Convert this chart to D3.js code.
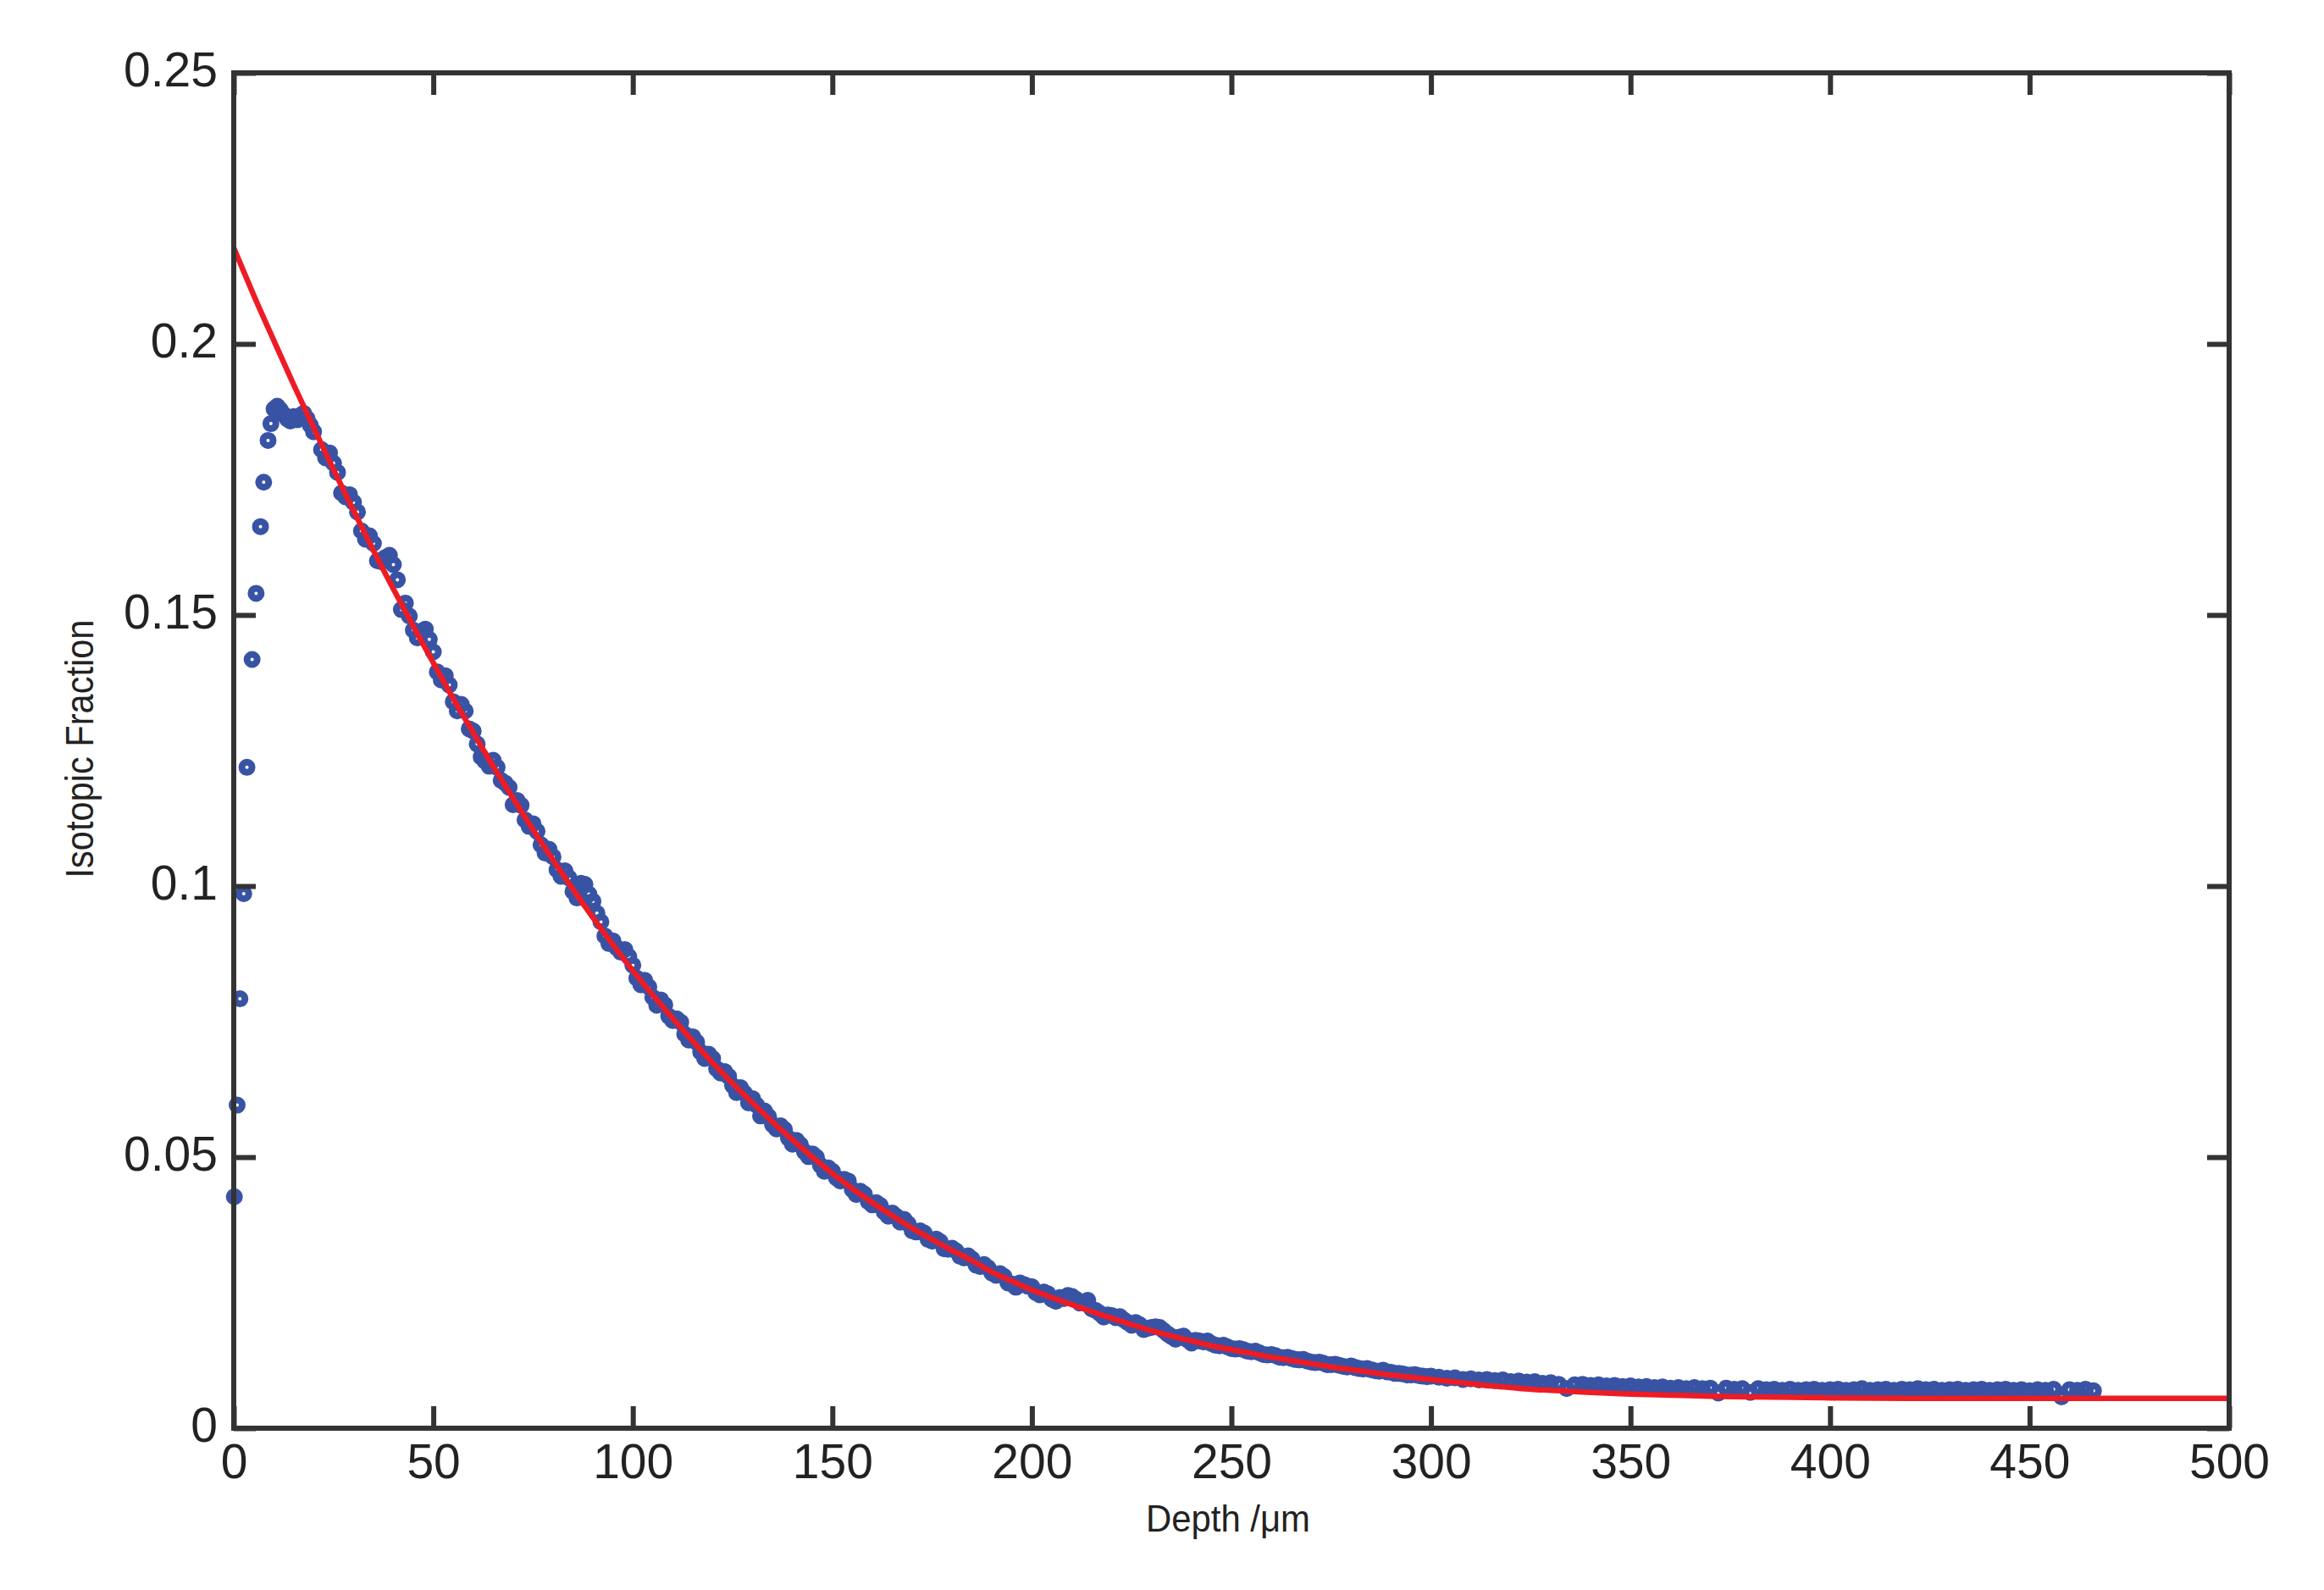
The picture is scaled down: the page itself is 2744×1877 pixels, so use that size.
<!DOCTYPE html>
<html>
<head>
<meta charset="utf-8">
<script src="https://cdn.jsdelivr.net/npm/d3@7"></script>
<style>
html,body{margin:0;padding:0;background:#fff;}
svg{display:block;}
</style>
</head>
<body>
<svg id="chart" width="2744" height="1877"></svg>
<script>
// ---------- data ----------
const xTicks = [0, 50, 100, 150, 200, 250, 300, 350, 400, 450, 500];
const yTicks = [0, 0.05, 0.1, 0.15, 0.2, 0.25];
const yTickLabels = ["0", "0.05", "0.1", "0.15", "0.2", "0.25"];
const xTitle = "Depth /\u03bcm";
const yTitle = "Isotopic Fraction";

// measured points: depth (µm)
const depth = [
0.15,0.85,1.55,2.5,3.3,4.6,5.6,6.7,7.5,8.6,9.3,10.1,10.9,11.7,12.5,13.4,14.2,15.0,15.9,16.7,17.5,18.4,19.2,20.0,
22,24,26,28,30,32,34,36,38,40,42,44,46,48,50,52,54,56,58,60,62,64,66,68,70,72,74,76,78,80,
82,84,86,88,90,92,94,96,98,100,102,104,106,108,110,112,114,116,118,120,122,124,126,128,130,
132,134,136,138,140,142,144,146,148,150,152,154,156,158,160,162,164,166,168,170,172,174,176,178,180,
182,184,186,188,190,192,194,196,198,200,202,204,206,208,210,212,214,216,218,220,222,224,226,228,230,
232,234,236,238,240,242,244,246,248,250,252,254,256,258,260,262,264,266,268,270,272,274,276,278,280,
282,284,286,288,290,292,294,296,298,300,302,304,306,308,310,312,314,316,318,320,322,324,326,328,330,
332,334,336,338,340,342,344,346,348,350,352,354,356,358,360,362,364,366,368,370,372,374,376,378,380,
382,384,386,388,390,392,394,396,398,400,402,404,406,408,410,412,414,416,418,420,422,424,426,428,430,
432,434,436,438,440,442,444,446,448,450,452,454,456,458,460,462,464,466
];
// measured points: isotopic fraction
const fraction = [
0.0427,0.0596,0.0792,0.0986,0.1219,0.1418,0.1540,0.1663,0.1745,0.1822,0.1853,0.1880,0.1885,0.1878,0.1870,0.1862,0.1858,0.1866,0.1860,0.1868,0.1872,0.1862,0.1850,0.1838,
0.1805,0.1799,0.1763,0.1718,0.1708,0.1655,0.1646,0.1600,0.1606,0.1593,0.1510,0.1498,0.1458,0.1474,0.1432,0.1380,0.1371,0.1323,0.1323,0.1286,0.1238,0.1221,0.1219,0.1190,0.1150,0.1149,0.1110,0.1101,0.1061,0.1054,
0.1018,0.1015,0.0978,0.1003,0.0972,0.0934,0.0894,0.0886,0.0883,0.0854,0.0818,0.0814,0.0780,0.0781,0.0752,0.0749,0.0716,0.0712,0.0682,0.0682,0.0655,0.0649,0.0619,0.0618,0.0608,
0.0576,0.0575,0.0552,0.0551,0.0524,0.0523,0.0501,0.0500,0.0474,0.0474,0.0456,0.0456,0.0431,0.0432,0.0412,0.0411,0.0391,0.0391,0.0385,0.0364,0.0364,0.0348,0.0349,0.0331,0.0332,
0.0317,0.0318,0.0301,0.0302,0.0286,0.0285,0.0268,0.0260,0.0265,0.0261,0.0246,0.0248,0.0234,0.0239,0.0243,0.0231,0.0236,0.0217,0.0205,0.0208,0.0206,0.0195,0.0195,0.0182,0.0186,
0.0186,0.0174,0.0164,0.0170,0.0157,0.0161,0.0161,0.0153,0.0153,0.0147,0.0147,0.0142,0.0142,0.0136,0.0136,0.0131,0.0131,0.0127,0.0127,0.0122,0.0122,0.0117,0.0118,0.0114,0.0115,
0.0110,0.0110,0.0106,0.0107,0.0103,0.0101,0.0098,0.0099,0.0096,0.0096,0.0094,0.0092,0.0093,0.0090,0.0091,0.0089,0.0090,0.0088,0.0089,0.0086,0.0087,0.0085,0.0086,0.0083,0.0084,
0.0081,0.0073,0.0080,0.0081,0.0079,0.0080,0.0078,0.0079,0.0077,0.0078,0.0076,0.0077,0.0075,0.0076,0.0074,0.0075,0.0073,0.0075,0.0073,0.0074,0.0065,0.0074,0.0072,0.0073,0.0066,
0.0073,0.0071,0.0072,0.0070,0.0072,0.0070,0.0071,0.0072,0.0070,0.0071,0.0072,0.0070,0.0071,0.0073,0.0070,0.0071,0.0072,0.0070,0.0072,0.0071,0.0073,0.0071,0.0072,0.0070,0.0071,
0.0072,0.0070,0.0071,0.0072,0.0070,0.0071,0.0072,0.0070,0.0071,0.0069,0.0071,0.0070,0.0072,0.0058,0.0071,0.0070,0.0072,0.0069
];
const depthB = [
23,25,27,29,31,33,35,37,39,41,43,45,47,49,51,53,55,57,59,61,63,65,67,69,71,73,75,77,79,81,
83,85,87,89,91,93,95,97,99,101,103,105,107,109,111,113,115,117,119,121,123,125,127,129,131,133,135,137,139,141,
143,145,147,149,151,153,155,157,159,161,163,165,167,169,171,173,175,177,179,181,183,185,187,189,191,193,195,197,199,201,
203,205,207,209,211,213,215,217,219,221,223,225,227,229,231,233,235,237,239,241,243,245,247,249,251,253,255,257,259,261,
263,265,267,269,271,273,275,277,279,281,283,285,287,289,291,293,295,297,299
];
const fractionB = [
0.1790,0.1780,0.1725,0.1722,0.1690,0.1640,0.1632,0.1598,0.1610,0.1565,0.1522,0.1472,0.1470,0.1455,0.1395,0.1388,0.1340,0.1335,0.1290,0.1262,0.1230,0.1232,0.1195,0.1182,0.1158,0.1122,0.1115,0.1076,0.1068,0.1030,
0.1028,0.0990,0.1005,0.0985,0.0950,0.0908,0.0899,0.0878,0.0870,0.0830,0.0826,0.0795,0.0790,0.0760,0.0755,0.0727,0.0722,0.0694,0.0690,0.0663,0.0658,0.0632,0.0628,0.0600,0.0596,0.0585,0.0560,0.0558,0.0535,0.0531,
0.0510,0.0506,0.0485,0.0480,0.0462,0.0459,0.0440,0.0437,0.0418,0.0416,0.0399,0.0397,0.0380,0.0377,0.0362,0.0360,0.0345,0.0344,0.0330,0.0327,0.0314,0.0312,0.0298,0.0296,0.0282,0.0280,0.0266,0.0268,0.0262,0.0250,
0.0251,0.0238,0.0241,0.0245,0.0238,0.0232,0.0220,0.0212,0.0209,0.0204,0.0200,0.0190,0.0191,0.0184,0.0187,0.0180,0.0169,0.0168,0.0163,0.0162,0.0159,0.0156,0.0152,0.0150,0.0146,0.0145,0.0141,0.0139,0.0135,0.0134,
0.0130,0.0129,0.0126,0.0124,0.0121,0.0120,0.0117,0.0116,0.0113,0.0112,0.0109,0.0108,0.0105,0.0104,0.0101,0.0100,0.0098,0.0097,0.0095
];

// fitted curve
const fitDepth = [0,5,10,15,20,25,30,35,40,45,50,55,60,65,70,75,80,85,90,95,100,105,110,115,120,125,130,135,140,145,150,155,160,165,170,175,180,185,190,195,200,205,210,215,220,225,230,235,240,245,250,255,260,265,270,275,280,285,290,295,300,305,310,315,320,325,330,335,340,350,360,370,380,390,400,420,450,500];
const fitFraction = [0.2177,0.2090,0.2007,0.1925,0.1846,0.1768,0.1693,0.1619,0.1548,0.1479,0.1412,0.1346,0.1283,0.1221,0.1162,0.1104,0.1048,0.0994,0.0942,0.0892,0.0844,0.0799,0.0756,0.0714,0.0674,0.0636,0.0600,0.0565,0.0532,0.0500,0.0470,0.0442,0.0416,0.0392,0.0369,0.0348,0.0328,0.0309,0.0288,0.0271,0.0255,0.0241,0.0228,0.0215,0.0203,0.0191,0.0180,0.0170,0.0161,0.0152,0.0145,0.0138,0.0131,0.0125,0.0119,0.0113,0.0108,0.0103,0.0098,0.0094,0.0090,0.0086,0.0082,0.0078,0.0075,0.0072,0.0070,0.0068,0.0066,0.0063,0.0061,0.0059,0.0058,0.0057,0.0056,0.0055,0.0055,0.0055];

// ---------- layout ----------
const L = 276, R = 2632, T = 86, B = 1686;
const frameColor = "#333333";
const svg = d3.select("#chart");

const x = d3.scaleLinear().domain([0, 500]).range([L, R]);
const y = d3.scaleLinear().domain([0, 0.25]).range([B, T]);

const font = "'Liberation Sans', Arial, Helvetica, sans-serif";

// scatter points
const pts = depth.map((d, i) => ({d: d, f: fraction[i]}))
  .concat(depthB.map((d, i) => ({d: d, f: fractionB[i]})));
svg.append("g")
  .selectAll("circle")
  .data(pts)
  .enter().append("circle")
  .attr("cx", p => x(p.d))
  .attr("cy", p => y(p.f))
  .attr("r", 6)
  .attr("fill", "none")
  .attr("stroke", "#3953A4")
  .attr("stroke-width", 8);

// fit line
const fit = fitDepth.map((d, i) => ({d: d, f: fitFraction[i]}));
svg.append("path")
  .datum(fit)
  .attr("d", d3.line().x(p => x(p.d)).y(p => y(p.f)).curve(d3.curveMonotoneX))
  .attr("fill", "none")
  .attr("stroke", "#ED1C24")
  .attr("stroke-width", 6.5);

// axes (ticks inward on all sides)
const tickLen = 26;
const gB = svg.append("g").attr("transform", `translate(0,${B})`)
  .call(d3.axisBottom(x).tickValues(xTicks).tickSizeInner(-tickLen).tickSizeOuter(0).tickFormat(d3.format("d")));
const gT = svg.append("g").attr("transform", `translate(0,${T})`)
  .call(d3.axisTop(x).tickValues(xTicks).tickSizeInner(-tickLen).tickSizeOuter(0).tickFormat(""));
const gL = svg.append("g").attr("transform", `translate(${L},0)`)
  .call(d3.axisLeft(y).tickValues(yTicks).tickSizeInner(-tickLen).tickSizeOuter(0).tickPadding(19).tickFormat((d, i) => yTickLabels[i]));
const gR = svg.append("g").attr("transform", `translate(${R},0)`)
  .call(d3.axisRight(y).tickValues(yTicks).tickSizeInner(-tickLen).tickSizeOuter(0).tickFormat(""));

[gB, gT, gL, gR].forEach(g => {
  g.select(".domain").remove();
  g.selectAll(".tick line").attr("stroke", frameColor).attr("stroke-width", 6);
  g.selectAll(".tick text").attr("fill", "#222").attr("font-family", font).attr("font-size", 57);
});
gL.selectAll(".tick text").attr("dy", "0.27em");
gB.selectAll(".tick text").attr("dy", "0").attr("y", 59);

// frame
svg.append("rect")
  .attr("x", L).attr("y", T)
  .attr("width", R - L).attr("height", B - T)
  .attr("fill", "none")
  .attr("stroke", frameColor)
  .attr("stroke-width", 6);

// axis titles
svg.append("text")
  .attr("x", (L + R) / 2 - 4).attr("y", 1808)
  .attr("text-anchor", "middle")
  .attr("font-family", font).attr("font-size", 44)
  .attr("fill", "#222")
  .attr("textLength", 194).attr("lengthAdjust", "spacingAndGlyphs")
  .text(xTitle);

svg.append("text")
  .attr("transform", `translate(110,${(T + B) / 2 - 2}) rotate(-90)`)
  .attr("text-anchor", "middle")
  .attr("font-family", font).attr("font-size", 46)
  .attr("fill", "#222")
  .attr("textLength", 305).attr("lengthAdjust", "spacingAndGlyphs")
  .text(yTitle);
</script>
</body>
</html>
